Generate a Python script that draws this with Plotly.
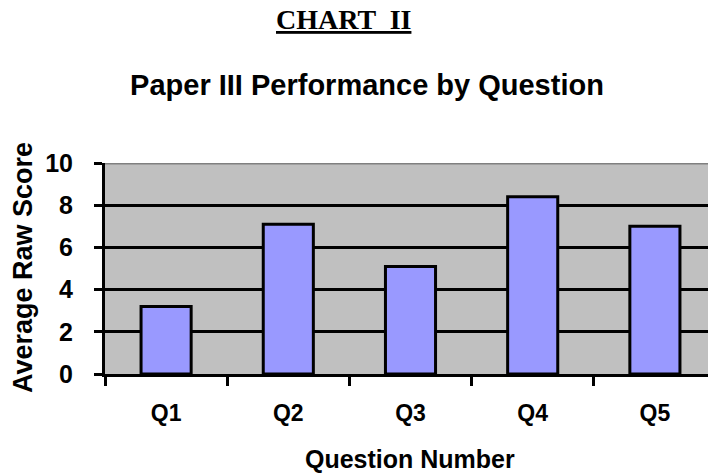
import plotly.graph_objects as go

# Average raw score per question on Paper III
questions = ["Q1", "Q2", "Q3", "Q4", "Q5"]
avg_scores = [3.2, 7.1, 5.1, 8.4, 7.0]
y_ticks = [0, 2, 4, 6, 8, 10]

SANS = "Liberation Sans, Arial, sans-serif"
SERIF = "Liberation Serif, Times New Roman, serif"

fig = go.Figure(
    go.Bar(
        x=questions,
        y=avg_scores,
        width=0.41,
        marker=dict(color="#9999FF", line=dict(color="black", width=3)),
    )
)

fig.update_layout(
    width=708,
    height=475,
    margin=dict(l=105, r=0, t=163, b=101),
    paper_bgcolor="white",
    plot_bgcolor="#C0C0C0",
    showlegend=False,
    title=dict(
        text="<b>Paper III Performance by Question</b>",
        font=dict(family=SANS, size=29, color="black"),
        x=367 / 708,
        xanchor="center",
        xref="container",
        y=1 - 85 / 475,
        yanchor="middle",
        yref="container",
    ),
    annotations=[
        dict(
            text="<b><u>CHART  II</u></b>",
            font=dict(family=SERIF, size=28, color="black"),
            xref="paper", yref="paper",
            x=(343 - 105) / 603, y=1 + (163 - 19) / 211,
            xanchor="center", yanchor="middle", showarrow=False,
        ),
        dict(
            text="<b>Average Raw Score</b>",
            font=dict(family=SANS, size=27, color="black"),
            textangle=-90,
            xref="paper", yref="paper",
            x=-(105 - 23) / 603, y=(374 - 268) / 211,
            xanchor="center", yanchor="middle", showarrow=False,
        ),
        dict(
            text="<b>Question Number</b>",
            font=dict(family=SANS, size=25, color="black"),
            xref="paper", yref="paper",
            x=(410 - 105) / 603, y=-(459 - 374) / 211,
            xanchor="center", yanchor="middle", showarrow=False,
        ),
    ],
    shapes=[
        # grey frame line along the top of the plotting area
        dict(type="line", xref="paper", yref="y", x0=0, x1=1, y0=10, y1=10,
             line=dict(color="#808080", width=3), layer="above"),
    ],
)

fig.update_xaxes(
    type="category",
    range=[-0.5, -0.5 + 603 / 122.2],
    showline=True, linecolor="black", linewidth=3,
    ticks="outside", ticklen=9, tickwidth=3, tickcolor="black",
    tickson="boundaries",
    showgrid=False,
    tickfont=dict(family=SANS, size=23, color="black", weight="bold"),
    ticklabelstandoff=16,
)

fig.update_yaxes(
    range=[0, 10],
    tickvals=y_ticks,
    ticktext=[str(v) for v in y_ticks],
    showline=True, linecolor="black", linewidth=3,
    ticks="outside", ticklen=8, tickwidth=3, tickcolor="black",
    showgrid=True, gridcolor="black", gridwidth=3,
    zeroline=False,
    tickfont=dict(family=SANS, size=25, color="black", weight="bold"),
    ticklabelstandoff=16,
)

fig.update_traces(hoverinfo="skip")
fig.write_html("out.html")
